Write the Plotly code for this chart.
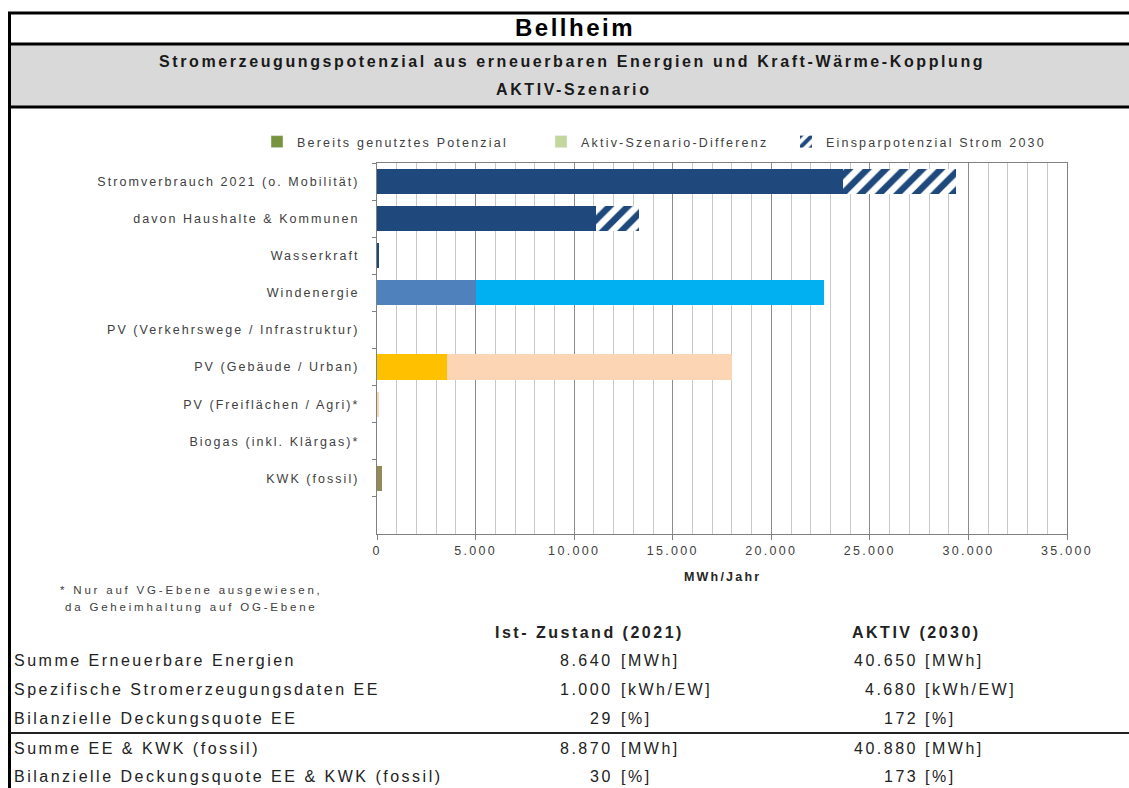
import plotly.graph_objects as go

W, H = 1129, 788

# ---------------- data ----------------
categories = [
    "Stromverbrauch 2021 (o. Mobilität)",
    "davon Haushalte & Kommunen",
    "Wasserkraft",
    "Windenergie",
    "PV (Verkehrswege / Infrastruktur)",
    "PV (Gebäude / Urban)",
    "PV (Freiflächen / Agri)*",
    "Biogas (inkl. Klärgas)*",
    "KWK (fossil)",
]
existing = [23630, 11100, 90, 5000, 0, 3550, 0, 0, 230]
difference = [0, 0, 0, 17650, 0, 14450, 120, 0, 0]
savings = [5720, 2200, 0, 0, 0, 0, 0, 0, 0]

existing_colors = ["#1f497d", "#1f497d", "#1f497d", "#4f81bd", "#ffc000",
                   "#ffc000", "#ffc000", "#77933c", "#948a54"]
difference_colors = ["#1f497d", "#1f497d", "#1f497d", "#00b0f0", "#fcd5b4",
                     "#fcd5b4", "#fcd5b4", "#c3d69b", "#948a54"]

legend_names = ["Bereits genutztes Potenzial", "Aktiv-Szenario-Differenz",
                "Einsparpotenzial Strom 2030"]
legend_colors = ["#77933c", "#c3d69b", "#1f497d"]

x_ticks = [0, 5000, 10000, 15000, 20000, 25000, 30000, 35000]

table_labels = [
    "Summe Erneuerbare Energien",
    "Spezifische Stromerzeugungsdaten EE",
    "Bilanzielle Deckungsquote EE",
    "Summe EE & KWK (fossil)",
    "Bilanzielle Deckungsquote EE & KWK (fossil)",
]
ist_values = [8640, 1000, 29, 8870, 30]
aktiv_values = [40650, 4680, 172, 40880, 173]
table_units = ["[MWh]", "[kWh/EW]", "[%]", "[MWh]", "[%]"]

title = "Bellheim"
subtitle1 = "Stromerzeugungspotenzial aus erneuerbaren Energien und Kraft-Wärme-Kopplung"
subtitle2 = "AKTIV-Szenario"
footnote1 = "* Nur auf VG-Ebene ausgewiesen,"
footnote2 = "da Geheimhaltung auf OG-Ebene"
x_title = "MWh/Jahr"
head1 = "Ist- Zustand (2021)"
head2 = "AKTIV (2030)"

# ---------------- helpers ----------------
FONT = "Liberation Sans, Arial, sans-serif"


def px(x):
    return x / W


def py(y):
    return 1 - y / H


def esc(t):
    return t.replace("&", "&amp;")


def ls(t, sp):
    return f'<span style="letter-spacing:{sp}px">{esc(t)}</span>'


def de(v):
    return f"{v:,}".replace(",", ".")


fig = go.Figure()

fig.add_trace(go.Bar(
    y=categories, x=existing, orientation="h",
    marker=dict(color=existing_colors, line=dict(width=0)),
    showlegend=False, hoverinfo="skip",
))
fig.add_trace(go.Bar(
    y=categories, x=difference, orientation="h",
    marker=dict(color=difference_colors, line=dict(width=0)),
    showlegend=False, hoverinfo="skip",
))
fig.add_trace(go.Bar(
    y=categories, x=savings, orientation="h",
    marker=dict(color="#1f497d", line=dict(width=0),
                pattern=dict(shape="/", fgcolor="#1f497d", bgcolor="white",
                             fgopacity=1, size=13, solidity=0.5)),
    name=ls(legend_names[2], 2.2), legend="legend3", hoverinfo="skip",
))
# legend-only entries
fig.add_trace(go.Bar(
    y=[None], x=[None], orientation="h",
    marker=dict(color=legend_colors[0]), name=ls(legend_names[0], 2.2),
    legend="legend",
))
fig.add_trace(go.Bar(
    y=[None], x=[None], orientation="h",
    marker=dict(color=legend_colors[1]), name=ls(legend_names[1], 2.2),
    legend="legend2",
))

leg_common = dict(orientation="h", xanchor="left", yanchor="middle",
                  bgcolor="rgba(0,0,0,0)", borderwidth=0, itemwidth=30,
                  font=dict(family=FONT, size=12.5, color="#404040"))

shapes = []
# gray band
shapes.append(dict(type="rect", xref="paper", yref="paper",
                   x0=px(10), x1=1.0, y0=py(107), y1=py(44),
                   fillcolor="#d9d9d9", line=dict(width=0), layer="below"))
for yy in (13, 44, 107):
    shapes.append(dict(type="line", xref="paper", yref="paper",
                       x0=px(8), x1=1.0, y0=py(yy), y1=py(yy),
                       line=dict(color="#000000", width=3)))
shapes.append(dict(type="line", xref="paper", yref="paper",
                   x0=px(9.5), x1=px(9.5), y0=py(12), y1=0,
                   line=dict(color="#000000", width=3)))
shapes.append(dict(type="line", xref="paper", yref="paper",
                   x0=px(10), x1=1.0, y0=py(733), y1=py(733),
                   line=dict(color="#222222", width=2)))

ann = []


def add_text(t, x, y, size, sp, bold=False, anchor="left", color="#222222"):
    s = ls(t, sp)
    if bold:
        s = f"<b>{s}</b>"
    ann.append(dict(text=s, xref="paper", yref="paper", x=px(x), y=py(y),
                    xanchor=anchor, yanchor="middle", showarrow=False,
                    font=dict(family=FONT, size=size, color=color)))


add_text(title, 575, 28, 24, 2.5, bold=True, anchor="center", color="#000000")
add_text(subtitle1, 572, 62, 16, 2.6, bold=True, anchor="center", color="#1a1a1a")
add_text(subtitle2, 574, 89, 16, 2.6, bold=True, anchor="center", color="#1a1a1a")
add_text(x_title, 722, 577, 12.5, 2.2, bold=True, anchor="center", color="#262626")
add_text(footnote1, 58, 590, 11.5, 2.8, color="#404040")
add_text(footnote2, 63, 607, 11.5, 2.8, color="#404040")
add_text(head1, 589, 632, 16, 2.5, bold=True, anchor="center")
add_text(head2, 916, 632, 16, 2.5, bold=True, anchor="center")

row_y = [660, 689, 718, 748, 776]
for i, lab in enumerate(table_labels):
    add_text(lab, 12, row_y[i], 16, 2.5)
    add_text(de(ist_values[i]), 615, row_y[i], 16, 2.5, anchor="right")
    add_text(table_units[i], 619, row_y[i], 16, 2.5)
    add_text(de(aktiv_values[i]), 920, row_y[i], 16, 2.5, anchor="right")
    add_text(table_units[i], 923, row_y[i], 16, 2.5)

fig.update_layout(
    width=W, height=H, autosize=False,
    margin=dict(l=0, r=0, t=0, b=0, pad=0, autoexpand=False),
    paper_bgcolor="white", plot_bgcolor="white",
    barmode="stack", bargap=0.32,
    font=dict(family=FONT, size=12.5, color="#404040"),
    separators=",.",
    legend=dict(x=px(257), y=py(142), **leg_common),
    legend2=dict(x=px(541), y=py(142), **leg_common),
    legend3=dict(x=px(786), y=py(142), **leg_common),
    xaxis=dict(
        domain=[px(377), px(1067)], range=[0, 35000], automargin=False,
        tickvals=x_ticks, ticktext=[ls(de(v), 2.3) for v in x_ticks],
        ticks="outside", ticklen=5, tickcolor="#808080",
        showline=True, linecolor="#808080", linewidth=1, mirror=True,
        showgrid=True, gridcolor="#8c8c8c", gridwidth=1,
        minor=dict(dtick=1000, showgrid=True, gridcolor="#c8c8c8",
                   gridwidth=1, ticks=""),
        zeroline=False,
        tickfont=dict(family=FONT, size=12.5, color="#404040"),
    ),
    yaxis=dict(
        domain=[py(534), py(163)], automargin=False,
        type="category", categoryorder="array", categoryarray=categories,
        range=[9.5, -0.5],
        tickvals=categories, ticktext=[ls(c, 2.05) for c in categories],
        tickson="boundaries", ticks="outside", ticklen=4, tickcolor="#808080",
        showline=True, linecolor="#808080", linewidth=1, mirror=True,
        showgrid=False, zeroline=False,
        tickfont=dict(family=FONT, size=12.5, color="#404040"),
        ticklabelstandoff=14,
    ),
    shapes=shapes, annotations=ann,
)

post = (
    "document.documentElement.style.margin='0';"
    "document.documentElement.style.padding='0';"
    "document.documentElement.style.overflow='hidden';"
    "document.body.style.margin='0';"
    "document.body.style.padding='0';"
    "document.body.style.overflow='hidden';"
    "var gd=document.getElementById('{plot_id}');"
    "gd.style.position='fixed';gd.style.left='0px';gd.style.top='0px';"
    "gd.style.width='%dpx';gd.style.height='%dpx';"
    "Plotly.relayout(gd,{autosize:false,width:%d,height:%d});" % (W, H, W, H)
)

fig.write_html("out.html", post_script=post,
               config={"displayModeBar": False, "responsive": False})
